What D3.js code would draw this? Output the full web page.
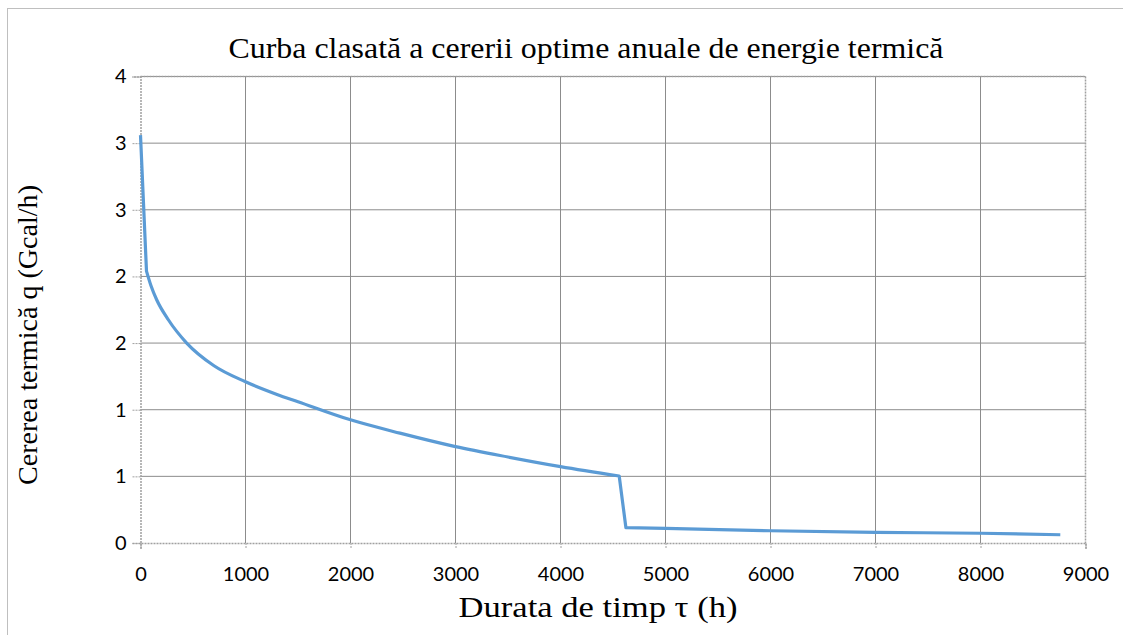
<!DOCTYPE html>
<html>
<head>
<meta charset="utf-8">
<script src="https://cdn.jsdelivr.net/npm/d3@7"></script>
<style>
  body { margin: 0; background: #fff; }
  svg { display: block; }
</style>
</head>
<body>
<div id="chart"></div>
<script>
// ore (h) si cerere termica (Gcal/h)
var hours  = [0, 57, 100, 154, 265, 440, 700, 1000, 1300, 1500, 2000, 2471, 3000, 3500, 4000, 4559, 4623, 5000, 6000, 7000, 8000, 8760];
var demand = [3.06, 2.04, 1.93, 1.825, 1.675, 1.50, 1.33, 1.21, 1.115, 1.06, 0.924, 0.824, 0.723, 0.645, 0.573, 0.503, 0.115, 0.110, 0.092, 0.080, 0.073, 0.062];

var xTicks = [0, 1000, 2000, 3000, 4000, 5000, 6000, 7000, 8000, 9000];
var yTicks = [0, 0.5, 1, 1.5, 2, 2.5, 3, 3.5];

var titleText = "Curba clasată a cererii optime anuale de energie termică";
var xTitle = "Durata de timp τ (h)";
var yTitle = "Cererea termică q (Gcal/h)";

var width = 1123, height = 635;
var margin = {left: 140.5, right: 1123 - 1085.5, top: 76.5, bottom: 635 - 543};

var svg = d3.select("#chart").append("svg")
    .attr("width", width).attr("height", height);

// cadrul exterior
svg.append("rect")
    .attr("x", 7.5).attr("y", 8.5)
    .attr("width", 1130).attr("height", 640)
    .attr("fill", "none").attr("stroke", "#bfbfbf").attr("stroke-width", 1);

var x = d3.scaleLinear().domain([0, 9000]).range([margin.left, width - margin.right]);
var y = d3.scaleLinear().domain([0, 3.5]).range([height - margin.bottom, margin.top]);

// grila
svg.append("g").selectAll("line").data(xTicks.slice(1, -1)).enter().append("line")
    .attr("x1", function(d) { return x(d); }).attr("x2", function(d) { return x(d); })
    .attr("y1", y(0)).attr("y2", y(3.5))
    .attr("stroke", "#8c8c8c").attr("stroke-width", 1);

svg.append("g").selectAll("line").data(yTicks.slice(1)).enter().append("line")
    .attr("x1", x(0)).attr("x2", x(9000))
    .attr("y1", function(d) { return y(d); }).attr("y2", function(d) { return y(d); })
    .attr("stroke", "#8c8c8c").attr("stroke-width", 1);

// chenar punctat (sus si dreapta)
svg.append("path")
    .attr("d", "M" + x(0) + "," + y(3.5) + "H" + x(9000) + "V" + y(0))
    .attr("fill", "none").attr("stroke", "#a0a0a0").attr("stroke-width", 1.5)
    .attr("stroke-dasharray", "2,1");

// axe
var fmtY = function(d) { return Math.round(d + 1e-9).toString(); };

var xAxis = svg.append("g")
    .attr("transform", "translate(0," + y(0) + ")")
    .call(d3.axisBottom(x).tickValues(xTicks).tickSize(6).tickPadding(18).tickFormat(d3.format("d")));

var yAxis = svg.append("g")
    .attr("transform", "translate(" + x(0) + ",0)")
    .call(d3.axisLeft(y).tickValues(yTicks).tickSize(8).tickPadding(6).tickFormat(fmtY));

[xAxis, yAxis].forEach(function(a) {
    a.select(".domain").attr("stroke", "#a0a0a0").attr("stroke-width", 1.5).attr("stroke-dasharray", "2,1");
    a.selectAll(".tick line").attr("stroke", "#a0a0a0").attr("stroke-width", 1).attr("stroke-dasharray", "2,1");
    a.selectAll("text")
        .attr("fill", "#000")
        .style("font-family", "Lato, 'Open Sans', sans-serif")
        .style("font-size", "20px");
});

// curba: segmente netede legate prin salturi drepte
var pts = d3.zip(hours, demand);
var smooth = d3.line()
    .x(function(d) { return x(d[0]); })
    .y(function(d) { return y(d[1]); })
    .curve(d3.curveMonotoneX);
var straight = d3.line()
    .x(function(d) { return x(d[0]); })
    .y(function(d) { return y(d[1]); });

var pieces = [
    straight(pts.slice(0, 2)),
    smooth(pts.slice(1, 16)),
    straight(pts.slice(15, 17)),
    smooth(pts.slice(16))
];
var d = pieces.map(function(p, i) { return i === 0 ? p : p.replace(/^M/, "L"); }).join("");

svg.append("path")
    .attr("d", d)
    .attr("fill", "none")
    .attr("stroke", "#5b9bd5")
    .attr("stroke-width", 3.2)
    .attr("stroke-linejoin", "round");

// titluri
var serif = "'Liberation Serif', 'Times New Roman', serif";

svg.append("text")
    .attr("x", 586).attr("y", 58)
    .attr("text-anchor", "middle")
    .attr("textLength", 715).attr("lengthAdjust", "spacingAndGlyphs")
    .style("font-family", serif)
    .style("font-size", "29px")
    .text(titleText);

svg.append("text")
    .attr("x", 598).attr("y", 617)
    .attr("text-anchor", "middle")
    .attr("textLength", 279).attr("lengthAdjust", "spacingAndGlyphs")
    .style("font-family", serif)
    .style("font-size", "29px")
    .text(xTitle);

svg.append("text")
    .attr("transform", "translate(37,335) rotate(-90)")
    .attr("text-anchor", "middle")
    .attr("textLength", 300).attr("lengthAdjust", "spacingAndGlyphs")
    .style("font-family", serif)
    .style("font-size", "27px")
    .text(yTitle);
</script>
</body>
</html>
